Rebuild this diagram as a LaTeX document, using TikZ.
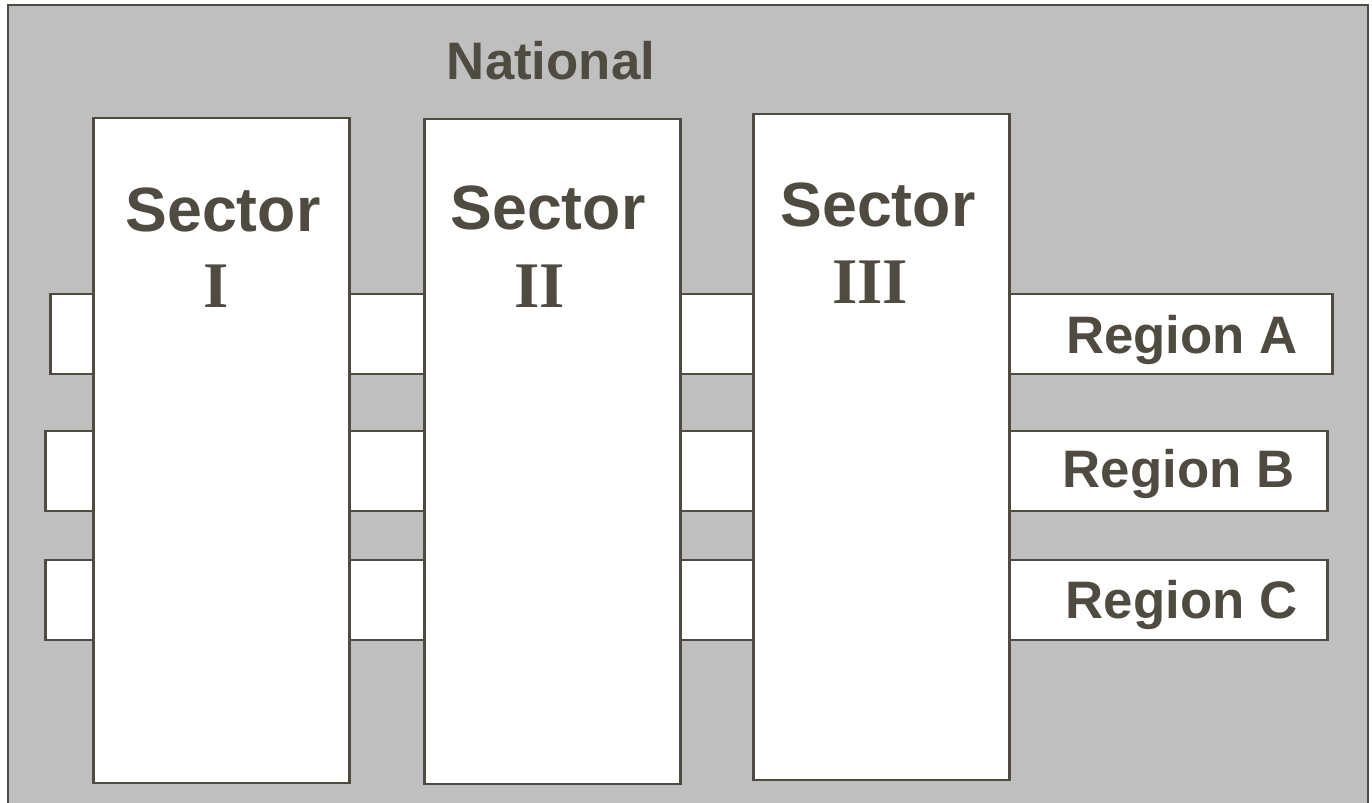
\documentclass[tikz,border=0pt]{standalone}
\usepackage{fontspec}
\setmainfont{Liberation Sans}
\newfontfamily\numfont{Liberation Serif}
\usetikzlibrary{positioning}
\definecolor{ink}{HTML}{4F4B40}
\definecolor{panel}{HTML}{BFBFBF}

\begin{document}
\begin{tikzpicture}[
  x=0.01cm,y=-0.01cm,
  frame/.style={draw=ink, line width=0.7pt, fill=panel},
  band/.style={draw=ink, line width=0.7pt, fill=white, minimum height=0.8cm, inner sep=0pt},
  sector/.style={draw=ink, line width=0.7pt, fill=white, minimum width=2.56cm, minimum height=6.65cm, inner sep=0pt},
  word/.style={anchor=base, inner sep=0pt, text=ink, font=\bfseries\fontsize{17.8pt}{20pt}\selectfont},
  numeral/.style={anchor=base, inner sep=0pt, text=ink, font=\numfont\bfseries\fontsize{18.5pt}{20pt}\selectfont},
  tag/.style={anchor=base, inner sep=0pt, text=ink, font=\bfseries\fontsize{15pt}{17pt}\selectfont}
]
\useasboundingbox (0,0) rectangle (1372,802);
\clip (0,0) rectangle (1372,802);
\draw[frame] (8,5) rectangle (1368,830);
\node[tag] (nat) at (551,79) {National};
% regions run across the sectors
\node[band, minimum width=12.81cm] (ra) at (691.5,334) {};
\node[band, minimum width=12.81cm] (rb) at (686.5,471) {};
\node[band, minimum width=12.81cm] (rc) at (686.5,600) {};
\node[tag] (la) at (1182,353) {Region A};
\node[tag] (lb) at (1178.5,487) {Region B};
\node[tag] (lc) at (1181.5,618) {Region C};
% sectors on top
\node[sector] (s1) at (221.5,450.5) {};
\node[sector] (s2) at (552.5,451.5) {};
\node[sector, minimum height=6.66cm] (s3) at (881.5,447) {};
\node[word] (w1) at (223,231) {Sector};
\node[word] (w2) at (548,229) {Sector};
\node[word] (w3) at (878,226) {Sector};
\node[numeral] (n1) at (216,307) {I};
\node[numeral] (n2) at (540,307) {II};
\node[numeral] (n3) at (870,303) {III};
\end{tikzpicture}
\end{document}
